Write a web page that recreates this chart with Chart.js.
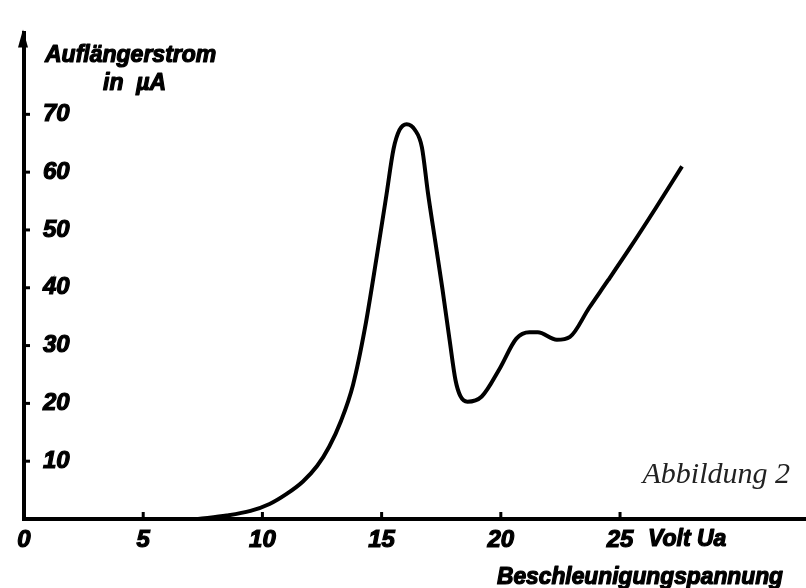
<!DOCTYPE html>
<html>
<head>
<meta charset="utf-8">
<script src="https://cdn.jsdelivr.net/npm/chart.js@4/dist/chart.umd.min.js"></script>
<style>
  html, body { margin: 0; padding: 0; background: #fff; }
  #wrap { width: 806px; height: 588px; }
</style>
</head>
<body>
<div id="wrap"><canvas id="chart" width="806" height="588"></canvas></div>
<script>
// Beschleunigungsspannung (V) und Auffängerstrom (µA)
const voltage = [7.3, 8.5, 9.5, 10.3, 11, 11.7, 12.3, 12.8, 13.3, 13.8, 14.3, 14.8, 15.2, 15.5, 15.75, 16.05, 16.4, 16.69, 16.94, 17.25, 17.55, 17.85, 18.1, 18.3, 18.6, 19.2, 19.95, 20.65, 21.2, 21.55, 22.35, 22.9, 23.7, 24.5, 25.4, 26.5, 27.6];
const current = [0, 0.6, 1.4, 2.6, 4.3, 6.5, 9.2, 12.5, 17.0, 23.2, 33.0, 45.5, 56.0, 64.0, 67.3, 68.3, 67.3, 64.3, 56.5, 48.0, 39.8, 31.0, 24.0, 21.3, 20.3, 21.2, 26.0, 31.2, 32.3, 32.3, 31.0, 31.5, 36.5, 41.3, 46.8, 53.8, 61.0];

const xTicks = [0, 5, 10, 15, 20, 25];
const yTicks = [10, 20, 30, 40, 50, 60, 70];

const yTitle = ['Auflängerstrom', 'in  µA'];
const xUnit = 'Volt Ua';
const xTitle = 'Beschleunigungspannung';
const caption = 'Abbildung 2';

const labelFont = { family: 'Liberation Sans', size: 24, weight: 'bold', style: 'italic' };

function boldText(ctx, text, x, y, maxWidth) {
  ctx.strokeText(text, x, y, maxWidth);
  ctx.fillText(text, x, y, maxWidth);
}

// Pfeil, Teilstriche und Beschriftungen im Stil der Vorlage
const handDrawn = {
  id: 'handDrawn',
  afterDraw(chart) {
    const { ctx, chartArea, scales } = chart;
    const x0 = scales.x.getPixelForValue(0);
    const y0 = scales.y.getPixelForValue(0);
    ctx.save();
    ctx.fillStyle = '#000';
    ctx.strokeStyle = '#000';

    // Pfeilspitze an der y-Achse
    ctx.beginPath();
    ctx.moveTo(x0 - 1, chartArea.top - 4);
    ctx.lineTo(x0 + 4, chartArea.top + 14);
    ctx.lineTo(x0 - 6, chartArea.top + 14);
    ctx.closePath();
    ctx.fill();

    // Teilstriche
    ctx.lineWidth = 3;
    yTicks.forEach(v => {
      const y = scales.y.getPixelForValue(v);
      ctx.beginPath();
      ctx.moveTo(x0, y);
      ctx.lineTo(x0 + 6, y);
      ctx.stroke();
    });
    xTicks.slice(1).forEach(v => {
      const x = scales.x.getPixelForValue(v);
      ctx.beginPath();
      ctx.moveTo(x, y0);
      ctx.lineTo(x, y0 - 7);
      ctx.stroke();
    });

    // Achsentitel
    ctx.lineWidth = 1.2;
    ctx.lineJoin = 'round';
    ctx.textBaseline = 'alphabetic';
    ctx.textAlign = 'left';
    ctx.font = 'italic bold 23px "Liberation Sans"';
    boldText(ctx, yTitle[0], 45, 62, 178);
    boldText(ctx, yTitle[1], 103, 90);

    ctx.textBaseline = 'middle';
    ctx.font = 'italic bold 23px "Liberation Sans"';
    boldText(ctx, xUnit, 648, 540, 80);

    ctx.textBaseline = 'alphabetic';
    ctx.font = 'italic bold 23px "Liberation Sans"';
    boldText(ctx, xTitle, 497, 584, 286);

    ctx.textAlign = 'right';
    ctx.fillStyle = '#222';
    ctx.font = 'italic 30px "Liberation Serif", "Times New Roman", serif';
    ctx.fillText(caption, 790, 483);
    ctx.restore();
  }
};

const ctx = document.getElementById('chart').getContext('2d');
new Chart(ctx, {
  type: 'line',
  data: {
    datasets: [{
      data: voltage.map((v, i) => ({ x: v, y: current[i] })),
      borderColor: '#000',
      borderWidth: 4,
      pointRadius: 0,
      fill: false,
      cubicInterpolationMode: 'monotone'
    }]
  },
  options: {
    responsive: false,
    animation: false,
    layout: { padding: { top: 15, right: 0, bottom: 0, left: 0 } },
    plugins: {
      legend: { display: false },
      tooltip: { enabled: false }
    },
    scales: {
      x: {
        type: 'linear',
        min: 0,
        max: 32.8,
        afterBuildTicks: s => { s.ticks = xTicks.map(v => ({ value: v })); },
        afterFit: s => { s.height = 69; },
        grid: { drawOnChartArea: false, drawTicks: false },
        border: { display: true, color: '#000', width: 4 },
        ticks: { color: '#000', font: labelFont, padding: 7, maxRotation: 0, textStrokeColor: '#000', textStrokeWidth: 1.2 }
      },
      y: {
        min: 0,
        max: 84,
        afterBuildTicks: s => { s.ticks = yTicks.map(v => ({ value: v })); },
        afterFit: s => { s.width = 24; },
        grid: { drawOnChartArea: false, drawTicks: false },
        border: { display: true, color: '#000', width: 4 },
        ticks: { color: '#000', font: labelFont, mirror: true, padding: 19, textStrokeColor: '#000', textStrokeWidth: 1.2 }
      }
    }
  },
  plugins: [handDrawn]
});
</script>
</body>
</html>
